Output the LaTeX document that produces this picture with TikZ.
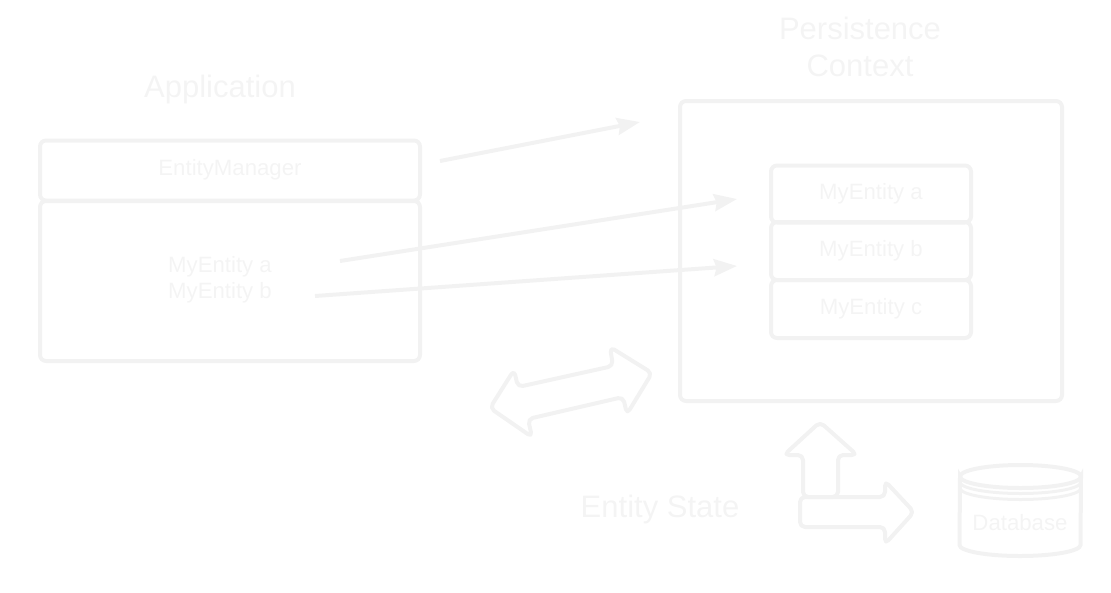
\documentclass[tikz,border=0pt]{standalone}
\usepackage{fontspec}
\setmainfont{Liberation Sans}
\usepackage{tikz}
\usetikzlibrary{arrows.meta}
\definecolor{pale}{HTML}{F2F2F2}
\definecolor{paletext}{HTML}{F4F4F4}
\tikzstyle{es} = [line width=4pt,draw=pale,-{Stealth[length=23pt,width=17pt,inset=2.5pt]}]
\tikzstyle{box} = [draw=pale,line width=4pt,rounded corners=6pt,rectangle,inner sep=0pt]
\tikzstyle{heading} = [text=paletext,align=center,font=\fontsize{31}{37}\selectfont]
\tikzstyle{plain} = [text=paletext,align=center,font=\fontsize{22.2}{26}\selectfont]
\tikzstyle{outline} = [draw=pale,line width=4pt,line join=round,rounded corners=5pt]

\begin{document}
\begin{tikzpicture}[yscale=-1]
	\useasboundingbox (0pt,0pt) rectangle (1111pt,592pt);
	% left side
	\node (apptitle) at (220pt,89pt)[heading]{Application};
	\node (manager) at (230pt,170.5pt)[box,minimum width=380pt,minimum height=60pt]{};
	\node (managertext) at (230pt,170pt)[plain]{EntityManager};
	\node (appbox) at (230pt,281pt)[box,minimum width=380pt,minimum height=160pt]{};
	\node (apptext) at (220pt,280pt)[plain]{MyEntity a\\MyEntity b};
	% right side
	\node (pctitle) at (860pt,46.5pt)[heading]{Persistence\\Context};
	\node (pcbox) at (871pt,251pt)[box,minimum width=382pt,minimum height=300pt]{};
	\node (entitya) at (871pt,194pt)[box,minimum width=200pt,minimum height=57pt]{};
	\node (entityb) at (871pt,251pt)[box,minimum width=200pt,minimum height=58pt]{};
	\node (entityc) at (871pt,309pt)[box,minimum width=200pt,minimum height=58pt]{};
	\node (textA) at (871pt,194pt)[plain]{MyEntity a};
	\node (textB) at (871pt,251pt)[plain]{MyEntity b};
	\node (textC) at (871pt,309pt)[plain]{MyEntity c};
	% arrows
	\coordinate (managerout) at (440pt,161pt);
	\coordinate (pcin) at (640pt,122pt);
	\coordinate (aout) at (340pt,261pt);
	\coordinate (ain) at (737pt,199pt);
	\coordinate (bout) at (315pt,296pt);
	\coordinate (bin) at (737pt,266pt);
	\draw[es] (managerout) -- (pcin);
	\draw[es] (aout) -- (ain);
	\draw[es] (bout) -- (bin);
	% block arrows
	\draw[outline] (652pt,373pt) -- (610pt,347pt) -- (613pt,366pt) -- (518pt,387pt) -- (514pt,370pt) -- (490pt,408pt) -- (532pt,437pt) -- (528pt,419pt) -- (623pt,397pt) -- (627pt,414pt) -- cycle;
	\draw[outline] (820pt,422pt) -- (784pt,455pt) -- (803pt,455pt) -- (803pt,497pt) -- (838pt,497pt) -- (838pt,455pt) -- (857pt,455pt) -- cycle;
	\draw[outline] (800pt,497pt) -- (885pt,497pt) -- (885pt,481pt) -- (914pt,512pt) -- (885pt,544pt) -- (885pt,527pt) -- (800pt,527pt) -- cycle;
	\node (statetext) at (660pt,509pt)[heading]{Entity State};
	% database
	\draw[draw=pale,line width=4pt] (960pt,476.5pt) arc[start angle=180,end angle=360,x radius=60.5pt,y radius=-11.5pt] -- (1080.5pt,545pt) arc[start angle=0,end angle=-180,x radius=60.5pt,y radius=-11pt] -- cycle;
	\draw[draw=pale,line width=4pt] (960pt,476.5pt) arc[start angle=180,end angle=0,x radius=60.5pt,y radius=-11.5pt];
	\draw[draw=pale,line width=3pt] (960pt,482pt) arc[start angle=180,end angle=360,x radius=60.5pt,y radius=-11.5pt];
	\draw[draw=pale,line width=3pt] (960pt,488pt) arc[start angle=180,end angle=360,x radius=60.5pt,y radius=-11.5pt];
	\node (dbtext) at (1020pt,523pt)[plain]{Database};
\end{tikzpicture}
\end{document}
